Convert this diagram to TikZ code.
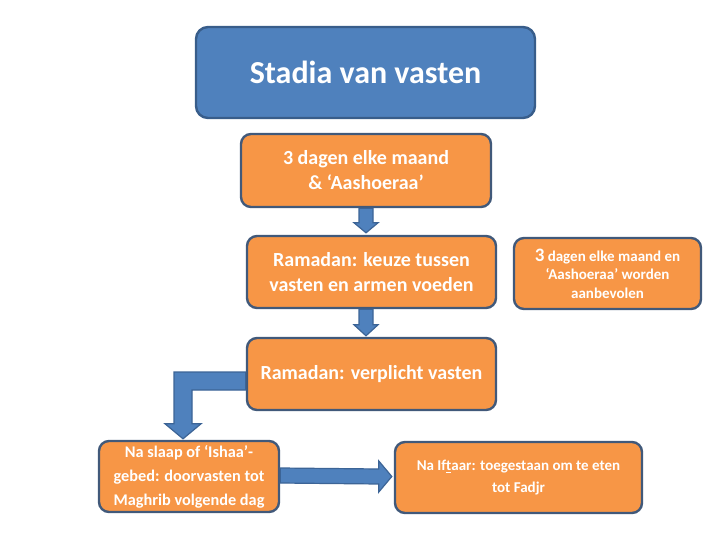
\documentclass[tikz,border=0pt]{standalone}
\usepackage{fontspec}
\setmainfont{Carlito}
\usetikzlibrary{calc}
\definecolor{orfill}{HTML}{F79646}
\definecolor{boxline}{HTML}{41597A}
\definecolor{bluefill}{HTML}{4F81BD}
\definecolor{blueline}{HTML}{385D8A}
\definecolor{arrline}{HTML}{3C6496}
\tikzset{
  obox/.style={draw=boxline, line width=2.4pt, fill=orfill, rounded corners=10pt,
    text=white, align=center, inner sep=0pt, font=\bfseries\fontsize{20}{25}\selectfont},
  tbox/.style={draw=blueline, line width=2.4pt, fill=bluefill, rounded corners=12pt,
    text=white, align=center, inner sep=0pt, font=\bfseries\fontsize{32}{36}\selectfont},
  blockarrow/.style={draw=arrline, line width=1.2pt, fill=bluefill, line join=miter}
}
\begin{document}
\begin{tikzpicture}[x=1pt,y=-1pt]
\useasboundingbox (0,0) rectangle (720,540);
\node[tbox, minimum width=339pt, minimum height=91pt] (title) at (365.5,72.5) {Stadia van vasten};
\node[obox, minimum width=250pt, minimum height=73pt] (b1) at (366,170.5) {3 dagen elke maand\\\& ‘Aashoeraa’};
\node[obox, minimum width=249pt, minimum height=72pt] (b2) at (371.5,272) {Ramadan: keuze tussen\\vasten en armen voeden};
\node[obox, font=\bfseries\fontsize{15}{18.5}\selectfont, minimum width=187pt, minimum height=71pt] (b3) at (607.5,273.5) {{\fontsize{19}{18.5}\selectfont 3} dagen elke maand en\\‘Aashoeraa’ worden\\aanbevolen};
\node[obox, minimum width=249pt, minimum height=72pt] (b4) at (371.5,374) {Ramadan: verplicht vasten};
\node[obox, font=\bfseries\fontsize{16.3}{24}\selectfont, minimum width=180pt, minimum height=71pt] (b5) at (189,476.5) {Na slaap of ‘Ishaa’-\\gebed: doorvasten tot\\Maghrib volgende dag};
\node[obox, font=\bfseries\fontsize{15}{21.5}\selectfont, minimum width=247pt, minimum height=71pt] (b6) at (518.5,477.5) {Na If\underline{t}aar: toegestaan om te eten\\tot Fadjr};
% arrow b1 -> b2
\coordinate (a1s) at (b1.south);
\coordinate (a1e) at (b2.north -| b1.south);
\draw[blockarrow] ($(a1s)+(-7,0)$) -- ($(a1e)+(-7,-12)$) -- ($(a1e)+(-12,-12)$) -- ($(a1e)+(0,-2)$)
  -- ($(a1e)+(12,-12)$) -- ($(a1e)+(7,-12)$) -- ($(a1s)+(7,0)$) -- cycle;
% arrow b2 -> b4
\coordinate (a2s) at (b2.south -| b1.south);
\coordinate (a2e) at (b4.north -| b1.south);
\draw[blockarrow] ($(a2s)+(-7,0)$) -- ($(a2e)+(-7,-12)$) -- ($(a2e)+(-12,-12)$) -- ($(a2e)+(0,-1)$)
  -- ($(a2e)+(12,-12)$) -- ($(a2e)+(7,-12)$) -- ($(a2s)+(7,0)$) -- cycle;
% bent arrow b4 -> b5
\coordinate (a3s) at ($(b4.west)+(0,7)$);
\coordinate (a3e) at ($(b5.north)+(-6,0)$);
\draw[blockarrow] ($(a3s |- 0,372)$) -- ($(a3e |- 0,372)+(-9,0)$) -- ($(a3e)+(-9,-16)$)
  -- ($(a3e)+(-18,-16)$) -- ($(a3e)+(0,-1)$) -- ($(a3e)+(18,-16)$) -- ($(a3e)+(9,-16)$)
  -- ($(a3e |- 0,390)+(9,0)$) -- ($(a3s |- 0,390)$) -- cycle;
% arrow b5 -> b6
\coordinate (a4s) at ($(b5.east)+(0,-1)$);
\coordinate (a4e) at ($(b6.west)+(0,-1)$);
\draw[blockarrow] ($(a4s)+(0,-7.5)$) -- ($(a4e)+(-15,-7.5)$) -- ($(a4e)+(-15,-15.5)$) -- ($(a4e)+(-2,0)$)
  -- ($(a4e)+(-15,15.5)$) -- ($(a4e)+(-15,7.5)$) -- ($(a4s)+(0,7.5)$) -- cycle;
\end{tikzpicture}
\end{document}
